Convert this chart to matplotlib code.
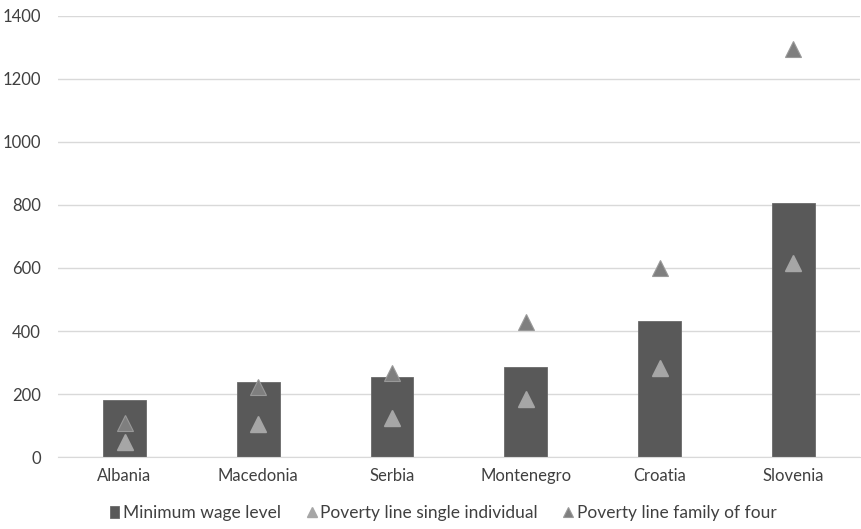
import matplotlib
matplotlib.use("Agg")
import matplotlib.pyplot as plt
import numpy as np

countries = ["Albania", "Macedonia", "Serbia", "Montenegro", "Croatia", "Slovenia"]
min_wage = [181, 238, 254, 286, 432, 806]
poverty_single = [48, 105, 125, 184, 284, 616]
poverty_family = [108, 222, 267, 429, 601, 1295]
yticks = [0, 200, 400, 600, 800, 1000, 1200, 1400]

plt.rcParams['font.family'] = ['Lato', 'DejaVu Sans']

fig = plt.figure(figsize=(8.61, 5.29), dpi=100)
ax = fig.add_axes([0.067, 0.136, 0.932, 0.834])

x = np.arange(len(countries))
b = ax.bar(x, min_wage, width=0.32, color="#595959", label="Minimum wage level", zorder=2,
           edgecolor="#6a6a6a", linewidth=0.6)
l1, = ax.plot(x, poverty_single, linestyle="none", marker="^", markersize=11,
              color="#a6a6a6", markeredgecolor="#a6a6a6", label="Poverty line single individual", zorder=3)
l2, = ax.plot(x, poverty_family, linestyle="none", marker="^", markersize=11,
              color="#7f7f7f", markeredgecolor="#999999", markeredgewidth=0.8,
              label="Poverty line family of four", zorder=4)

ax.set_xlim(-0.5, len(countries) - 0.5)
ax.set_ylim(0, 1400)
ax.set_yticks(yticks)
ax.set_xticks(x)
ax.set_xticklabels(countries)
ax.yaxis.grid(True, color="#d9d9d9", linewidth=1, zorder=0)
ax.set_axisbelow(True)
for s in ["top", "right", "left"]:
    ax.spines[s].set_visible(False)
ax.spines["bottom"].set_color("#d9d9d9")
ax.tick_params(axis="both", length=0, labelsize=12, colors="#404040")
ax.tick_params(axis="x", pad=8)
ax.tick_params(axis="y", pad=12)

leg = fig.legend(handles=[b, l1, l2], loc="lower center", bbox_to_anchor=(0.515, -0.014), ncol=3,
                 frameon=False, fontsize=12.5, handlelength=0.5, handletextpad=0.25,
                 columnspacing=1.5, markerscale=0.7)
for t in leg.get_texts():
    t.set_color("#404040")

fig.savefig("out.png", dpi=100)
